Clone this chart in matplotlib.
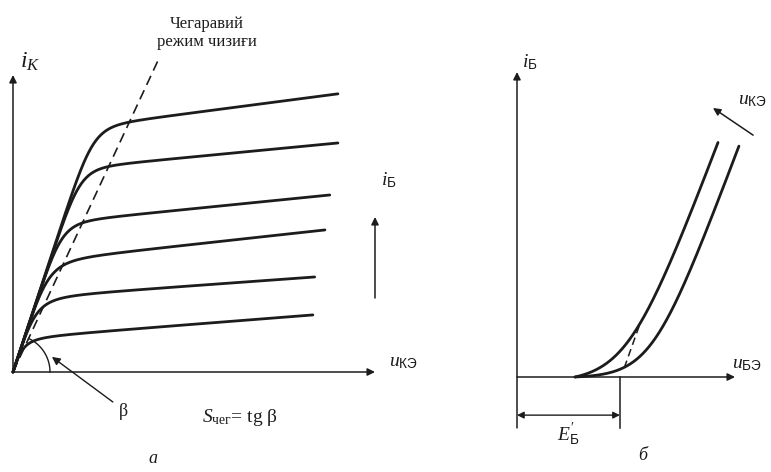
import numpy as np
import matplotlib.pyplot as plt

plt.rcParams['font.family'] = ['Liberation Serif', 'DejaVu Serif']
plt.rcParams['mathtext.fontset'] = 'custom'
plt.rcParams['mathtext.rm'] = 'Liberation Serif'
plt.rcParams['mathtext.it'] = 'Liberation Serif:italic'
plt.rcParams['mathtext.sf'] = 'Liberation Sans'

INK = '#1c1c1c'

# --- а) output family i_K(u_KЭ), one curve per base current, top to bottom
ik_plateau = [8.73, 7.33, 5.38, 4.0, 2.72, 1.25]   # level of the flat part at u=0
ik_slope = [0.146, 0.107, 0.112, 0.122, 0.08, 0.087]
ik_knee = [9, 8, 6, 4, 3, 2]                       # knee sharpness
uke_end = [10.77, 10.77, 10.5, 10.34, 10.0, 9.94]
s_sat = 3.25         # slope of the common steep rise
s_boundary = 2.4     # slope of the boundary (dashed) line, tg beta
u_boundary = 4.87

# --- б) input curves i_Б(u_БЭ) for two values of u_КЭ
ube_start = 0.266
ube_cut = [0.509, 0.619]
ube_width = [0.101, 0.087]
ib_gain = [1.894, 1.90]
ube_end = [0.922, 1.018]
e_b = 0.472          # E'_Б
ube_tangent = 0.565


def output_curve(u, i0, g, n):
    x = s_sat * u / i0
    return i0 * x / (1 + x ** n) ** (1 / n) + g * u


def input_curve(u, uc, w, k):
    base = k * w * np.logaddexp(0, (ube_start - uc) / w)
    return k * w * np.logaddexp(0, (u - uc) / w) - base


def arrow(ax, start, end, lw=1.1, style='-|>', ms=11):
    ax.annotate('', xy=end, xytext=start, annotation_clip=False,
                arrowprops=dict(arrowstyle=style, lw=lw, color=INK,
                                shrinkA=0, shrinkB=0, mutation_scale=ms))


fig = plt.figure(figsize=(7.71, 4.72), dpi=100)

# ---------------- panel а ----------------
ax1 = fig.add_axes([13 / 771, 100 / 472, 362 / 771, 297 / 472])
ax1.set_xlim(0, 12)
ax1.set_ylim(0, 11)
ax1.axis('off')

for i0, g, n, ue in zip(ik_plateau, ik_slope, ik_knee, uke_end):
    u = np.linspace(0, ue, 400)
    ax1.plot(u, output_curve(u, i0, g, n), color=INK, lw=2.0,
             solid_capstyle='round', clip_on=False)

ub = np.array([0, u_boundary])
ax1.plot(ub, s_boundary * ub, color=INK, lw=1.2, ls=(0, (6, 3.5)), clip_on=False)

# angle beta drawn as a circular arc in screen space
px_x, px_y = 362 / 12, 297 / 11
beta = np.arctan2(s_boundary * px_y, px_x)
t = np.linspace(0, beta, 50)
ax1.plot(37 / px_x * np.cos(t), 37 / px_y * np.sin(t), color=INK, lw=1.0, clip_on=False)
arrow(ax1, (3.31, -1.11), (1.29, 0.56), lw=1.0, ms=12)

arrow(ax1, (0, 0), (0, 11))
arrow(ax1, (0, 0), (12, 0))
arrow(ax1, (12.0, 2.74), (12.0, 5.74))

ax1.text(0.56, 11.5, r'$i_K$', fontsize=17, ha='center', va='center', color=INK)
ax1.text(12.93, 0.37, r'$u_{\mathsf{КЭ}}$', fontsize=14, ha='center', va='center', color=INK)
ax1.text(12.45, 7.11, r'$i_{\mathsf{Б}}$', fontsize=14, ha='center', va='center', color=INK)
ax1.text(6.43, 12.56, 'Чегаравий\nрежим чизиғи', fontsize=12, ha='center',
         va='center', linespacing=1.2, color=INK)
ax1.text(3.65, -1.45, 'β', fontsize=13, ha='center', va='center', color=INK)
ax1.text(7.52, -1.67, r'$S_{\mathrm{чег}}$= tg β', fontsize=14, ha='center',
         va='center', color=INK)
ax1.text(4.64, -3.19, 'а', fontsize=13, style='italic', ha='center', va='center', color=INK)

# ---------------- panel б ----------------
ax2 = fig.add_axes([517 / 771, 95 / 472, 218 / 771, 305 / 472])
ax2.set_xlim(0, 1)
ax2.set_ylim(0, 1)
ax2.axis('off')

for uc, w, k, ue in zip(ube_cut, ube_width, ib_gain, ube_end):
    u = np.linspace(ube_start, ue, 400)
    ax2.plot(u, input_curve(u, uc, w, k), color=INK, lw=2.0,
             solid_capstyle='round', clip_on=False)

ax2.plot([e_b + 0.02, ube_tangent],
         [0.03, input_curve(ube_tangent, ube_cut[0], ube_width[0], ib_gain[0])],
         color=INK, lw=1.1, ls=(0, (5, 3)), clip_on=False)

arrow(ax2, (0, -0.167), (0, 1.0))
arrow(ax2, (0, 0), (1.0, 0))
ax2.plot([e_b, e_b], [0, -0.167], color=INK, lw=1.1, clip_on=False)
arrow(ax2, (0, -0.125), (e_b, -0.125), lw=1.0, style='<|-|>', ms=10)
arrow(ax2, (1.083, 0.793), (0.899, 0.882), lw=1.1, ms=11)

ax2.text(0.06, 1.033, r'$i_{\mathsf{Б}}$', fontsize=14, ha='center', va='center', color=INK)
ax2.text(1.055, 0.04, r'$u_{\mathsf{БЭ}}$', fontsize=14, ha='center', va='center', color=INK)
ax2.text(1.078, 0.905, r'$u_{\mathsf{КЭ}}$', fontsize=14, ha='center', va='center', color=INK)
ax2.text(0.234, -0.19, r"$E^{\prime}_{\mathsf{Б}}$", fontsize=14, ha='center',
         va='center', color=INK)
ax2.text(0.578, -0.256, 'б', fontsize=13, style='italic', ha='center', va='center', color=INK)

fig.savefig('out.png', dpi=100, facecolor='white')
